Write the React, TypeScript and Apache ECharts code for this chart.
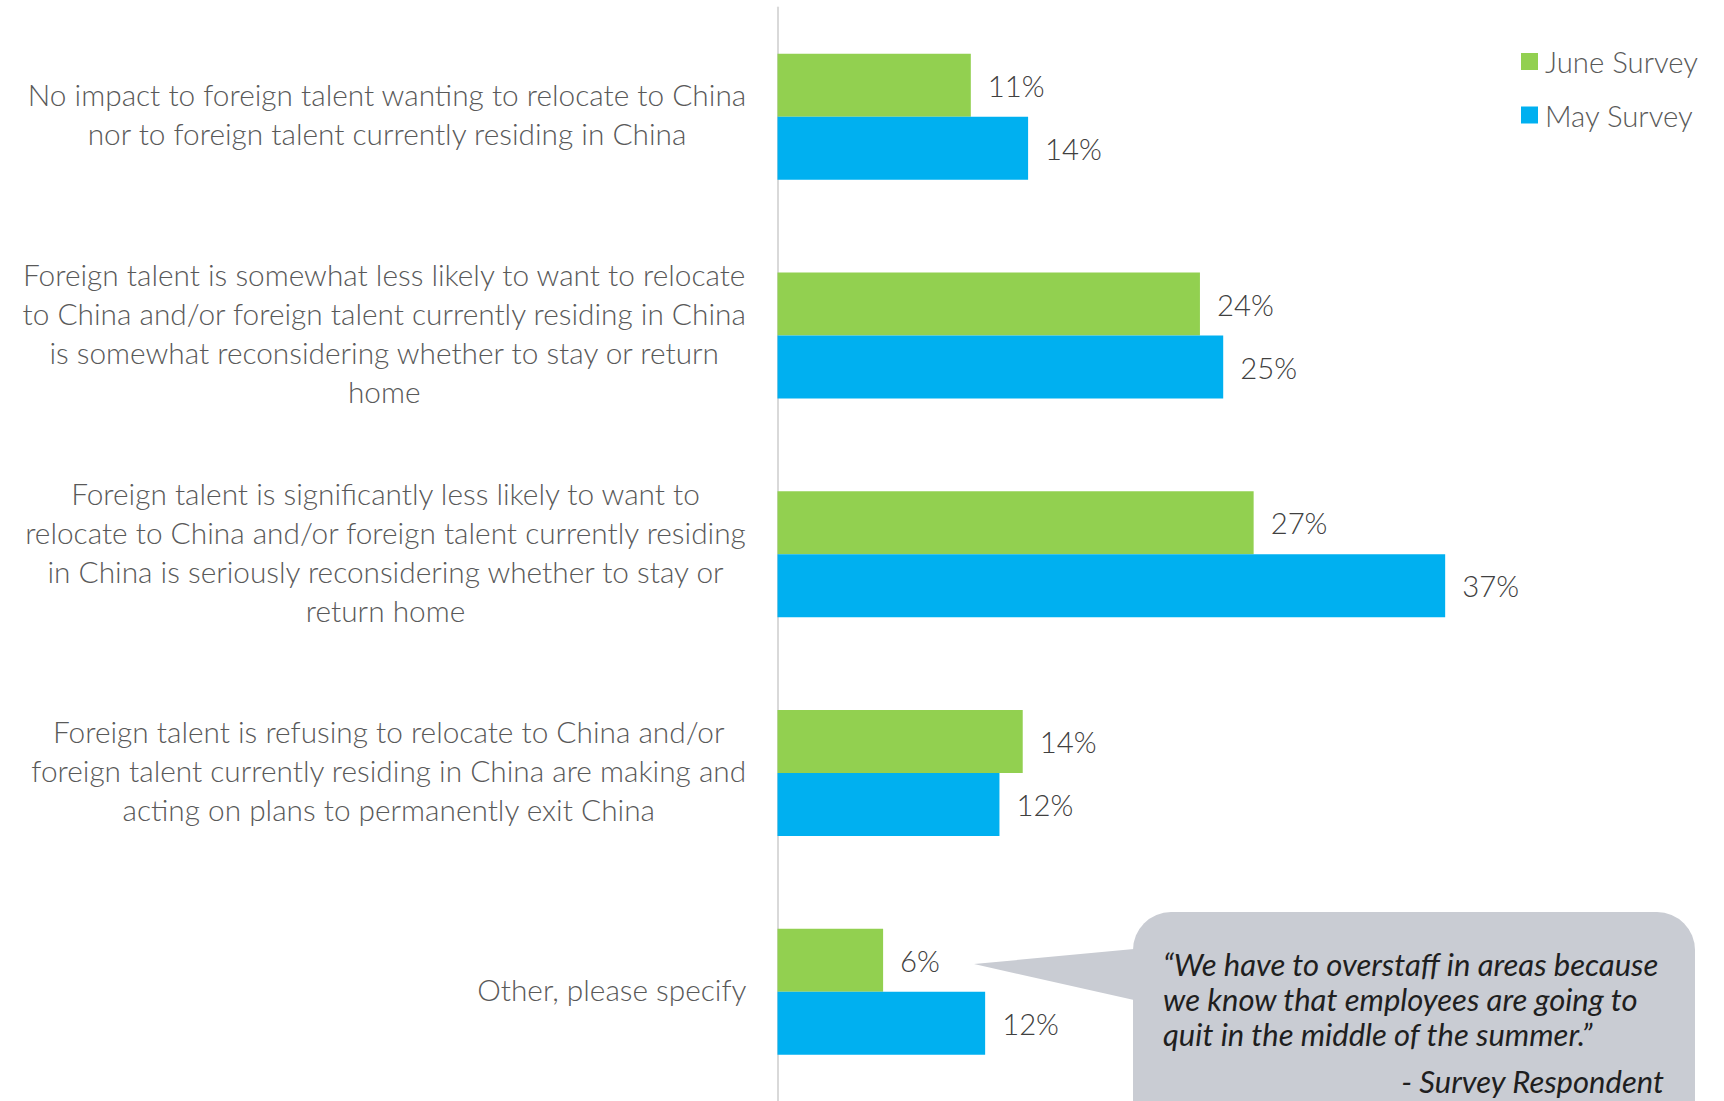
import React, { useEffect, useRef } from 'react';
import * as echarts from 'echarts';

const categories = [
  'No impact to foreign talent wanting to relocate to China\nnor to foreign talent currently residing in China',
  'Foreign talent is somewhat less likely to want to relocate\nto China and/or foreign talent currently residing in China\nis somewhat reconsidering whether to stay or return\nhome',
  'Foreign talent is significantly less likely to want to\nrelocate to China and/or foreign talent currently residing\nin China is seriously reconsidering whether to stay or\nreturn home',
  'Foreign talent is refusing to relocate to China and/or\nforeign talent currently residing in China are making and\nacting on plans to permanently exit China',
  'Other, please specify',
];
const seriesNames = ['June Survey', 'May Survey'];
const juneSurvey = [10.8, 23.6, 26.6, 13.7, 5.9];
const maySurvey = [14.0, 24.9, 37.3, 12.4, 11.6];
const quoteLines = [
  '“We have to overstaff in areas because',
  'we know that employees are going to',
  'quit in the middle of the summer.”',
];
const quoteSource = '- Survey Respondent';

const FONT = 'Lato, "Open Sans", sans-serif';
const FS = 29.3;
const CAT_FS = 29.8;

export default function App() {
  const ref = useRef<HTMLDivElement>(null);
  useEffect(() => {
    const chart = echarts.init(ref.current!, null, { renderer: 'svg' });
    const barLabel = {
      show: true,
      position: 'right',
      distance: 17,
      fontSize: FS,
      fontWeight: 300,
      color: '#404040',
      fontFamily: FONT,
      formatter: (p: any) => `${Math.round(p.value)}%`,
    };
    chart.setOption({
      animation: false,
      backgroundColor: '#ffffff',
      textStyle: { fontFamily: FONT },
      legend: {
        orient: 'vertical',
        left: 1516,
        top: 42,
        itemWidth: 17,
        itemHeight: 17,
        itemGap: 24.5,
        icon: 'rect',
        data: seriesNames,
        textStyle: { fontSize: FS, fontWeight: 300, color: '#595959', fontFamily: FONT, padding: [0, 0, 0, 2] },
      },
      grid: { left: 777.5, top: 7.5, width: 716, height: 1097.5, containLabel: false },
      xAxis: {
        type: 'value',
        min: 0,
        max: 40,
        show: false,
        splitLine: { show: false },
      },
      yAxis: {
        type: 'category',
        inverse: true,
        data: categories,
        axisTick: { show: false },
        axisLine: { show: true, lineStyle: { color: '#d9d9d9', width: 2 } },
        axisLabel: {
          interval: 0,
          align: 'right',
          margin: 31,
          formatter: (v: string) => `{a|${v}}`,
          rich: {
            a: {
              fontSize: CAT_FS,
              fontWeight: 300,
              lineHeight: 39,
              color: '#595959',
              align: 'center',
              fontFamily: FONT,
              padding: [0, 0, 5, 0],
            },
          },
        },
      },
      series: [
        {
          name: seriesNames[0],
          type: 'bar',
          data: juneSurvey,
          barWidth: 63,
          barGap: '0%',
          itemStyle: { color: '#92d050' },
          label: barLabel,
        },
        {
          name: seriesNames[1],
          type: 'bar',
          data: maySurvey,
          barWidth: 63,
          barGap: '0%',
          itemStyle: { color: '#00b0f0' },
          label: barLabel,
        },
      ],
      graphic: [
        {
          type: 'rect',
          shape: { x: 1133, y: 912, width: 562, height: 240, r: 38 },
          style: { fill: '#c9ccd3' },
        },
        {
          type: 'polygon',
          shape: { points: [[974, 964], [1134, 949], [1134, 1000]] },
          style: { fill: '#c9ccd3' },
        },
        {
          type: 'text',
          x: 1163,
          y: 946,
          style: {
            text: quoteLines.join('\n'),
            fontSize: 31,
            fontStyle: 'italic',
            fontFamily: FONT,
            lineHeight: 35,
            fill: '#1f1f1f',
            align: 'left',
            verticalAlign: 'top',
          },
        },
        {
          type: 'text',
          x: 1664,
          y: 1081,
          style: {
            text: quoteSource,
            fontSize: 31,
            fontStyle: 'italic',
            fontFamily: FONT,
            fill: '#1f1f1f',
            align: 'right',
            verticalAlign: 'middle',
          },
        },
      ],
    });
    return () => chart.dispose();
  }, []);
  return (
    <div
      ref={ref}
      style={{ position: 'absolute', left: 0, top: 0, width: 1724, height: 1101, background: '#fff' }}
    />
  );
}
